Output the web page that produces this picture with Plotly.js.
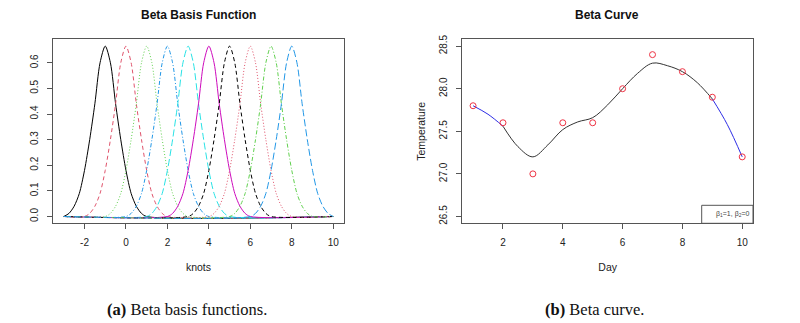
<!DOCTYPE html>
<html>
<head>
<meta charset="utf-8">
<script src="https://cdn.plot.ly/plotly-3.0.1.min.js"></script>
<style>html,body{margin:0;padding:0;background:#fff;}#chart{width:800px;height:323px;}</style>
</head>
<body>
<div id="chart"></div>
<script>
// ---- Panel (a): beta basis functions ----
// knot centres of the ten basis functions
var basisCenters = [-1, 0, 1, 2, 3, 4, 5, 6, 7, 8];
// common bump profile: offset from centre -> value
var profileOffsets = [-2, -1.75, -1.5, -1.25, -1, -0.75, -0.5, -0.25, 0, 0.25, 0.5, 0.75, 1, 1.25, 1.5, 1.75, 2];
var profileValues  = [0, 0.012, 0.04, 0.09, 0.18, 0.30, 0.44, 0.60, 0.665, 0.60, 0.44, 0.30, 0.18, 0.09, 0.04, 0.012, 0];
var knotRange = [-3, 10];
var basisColors = ['#000000', '#DF536B', '#61D04F', '#2297E6', '#28E2E5', '#CD0BBC', '#000000', '#DF536B', '#61D04F', '#2297E6'];
var basisDashes = ['solid', '4px,3px', '1px,2px', '1px,2px,4px,2px', '7px,3px', 'solid', '4px,3px', '1px,2px', '1px,2px,4px,2px', '7px,3px'];
var basisTicks = [-2, 0, 2, 4, 6, 8, 10];
var basisTickLabels = ['-2', '0', '2', '4', '6', '8', '10'];
var basisYTicks = [0, 0.1, 0.2, 0.3, 0.4, 0.5, 0.6];

// ---- Panel (b): beta curve ----
var days = [1, 2, 3, 4, 5, 6, 7, 8, 9, 10];
var temperature = [27.8, 27.6, 27.0, 27.6, 27.6, 28.0, 28.4, 28.2, 27.9, 27.2];
var curveDays = [1, 1.5, 2, 2.5, 3, 3.5, 4, 4.5, 5, 5.5, 6, 6.5, 7, 7.5, 8, 8.5, 9, 9.5, 10];
var curveTemp = [27.80, 27.70, 27.56, 27.32, 27.20, 27.34, 27.52, 27.61, 27.66, 27.81, 28.00, 28.18, 28.30, 28.27, 28.20, 28.07, 27.88, 27.58, 27.20];
var dayTicks = [2, 4, 6, 8, 10];
var tempTicks = [26.5, 27.0, 27.5, 28.0, 28.5];
var legendText = 'β<sub>1</sub>=1, β<sub>2</sub>=0';

var traces = [];
basisCenters.forEach(function (c, i) {
  var xs = [], ys = [];
  if (c + profileOffsets[0] > knotRange[0]) { xs.push(knotRange[0]); ys.push(0); }
  profileOffsets.forEach(function (o, j) { xs.push(c + o); ys.push(profileValues[j]); });
  if (c + profileOffsets[profileOffsets.length - 1] < knotRange[1]) { xs.push(knotRange[1]); ys.push(0); }
  traces.push({
    x: xs, y: ys, xaxis: 'x', yaxis: 'y', type: 'scatter', mode: 'lines',
    line: {color: basisColors[i], width: 1, dash: basisDashes[i], shape: 'spline', smoothing: 0.8},
    hoverinfo: 'skip', showlegend: false
  });
});

function segment(a, b) {
  var xs = [], ys = [];
  curveDays.forEach(function (d, i) { if (d >= a && d <= b) { xs.push(d); ys.push(curveTemp[i]); } });
  return {x: xs, y: ys};
}
var s1 = segment(1, 2), s2 = segment(2, 9), s3 = segment(9, 10);
[[s1, '#2E2EE6'], [s2, '#333333'], [s3, '#2E2EE6']].forEach(function (p) {
  traces.push({x: p[0].x, y: p[0].y, xaxis: 'x2', yaxis: 'y2', type: 'scatter', mode: 'lines',
    line: {color: p[1], width: 1, shape: 'spline', smoothing: 1}, showlegend: false});
});
traces.push({x: days, y: temperature, xaxis: 'x2', yaxis: 'y2', type: 'scatter', mode: 'markers',
  marker: {symbol: 'circle-open', size: 6, color: '#EE3344', line: {width: 1}}, showlegend: false});

var tickFont = {family: 'Liberation Sans, Arial, sans-serif', size: 10, color: '#222'};
var titleFont = {family: 'Liberation Sans, Arial, sans-serif', size: 10.5, color: '#222'};
function xax(domain, range, ticks, labels, title, anchor) {
  return {domain: domain, range: range, tickmode: 'array', tickvals: ticks, ticktext: labels, showgrid: false, zeroline: false,
    showline: true, mirror: true, linecolor: '#555', linewidth: 1, ticks: 'outside', ticklen: 5, tickcolor: '#555',
    tickfont: tickFont, ticklabelstandoff: 5, anchor: anchor,
    title: {text: title, font: titleFont, standoff: 16}};
}
function yax(domain, range, ticks, title, anchor) {
  var a = {domain: domain, range: range, tickmode: 'array', tickvals: ticks, tickformat: '.1f', showgrid: false, zeroline: false,
    showline: true, mirror: true, linecolor: '#555', linewidth: 1, ticks: 'outside', ticklen: 5, tickcolor: '#555',
    tickfont: tickFont, tickangle: -90, ticklabelstandoff: 5, anchor: anchor};
  if (title) { a.title = {text: title, font: titleFont, standoff: 10}; }
  return a;
}

var yDom = [1 - 223.3 / 323, 1 - 39.3 / 323];
var layout = {
  width: 800, height: 323, margin: {l: 0, r: 0, t: 0, b: 0},
  paper_bgcolor: '#fff', plot_bgcolor: '#fff', showlegend: false,
  xaxis: xax([53 / 800, 344 / 800], [-3.52, 10.52], basisTicks, basisTickLabels, 'knots', 'y'),
  yaxis: yax(yDom, [-0.0266, 0.6916], basisYTicks, null, 'x'),
  xaxis2: xax([462.3 / 800, 753 / 800], [0.64, 10.36], dayTicks, dayTicks.map(String), 'Day', 'y2'),
  yaxis2: yax(yDom, [26.42, 28.58], tempTicks, 'Temperature', 'x2'),
  shapes: [{type: 'rect', xref: 'x2 domain', yref: 'y2 domain', x0: (701.7 - 462.3) / (753 - 462.3), x1: 1, y0: 0, y1: (223.3 - 205.3) / 184,
    line: {color: '#555', width: 1}, fillcolor: 'rgba(0,0,0,0)'}],
  annotations: [
    {text: '<b>Beta Basis Function</b>', xref: 'paper', yref: 'paper', x: 198 / 800, y: 1 - 15 / 323, showarrow: false,
      font: {family: 'Liberation Sans, Arial, sans-serif', size: 12, color: '#111'}, xanchor: 'center', yanchor: 'middle'},
    {text: '<b>Beta Curve</b>', xref: 'paper', yref: 'paper', x: 607 / 800, y: 1 - 15 / 323, showarrow: false,
      font: {family: 'Liberation Sans, Arial, sans-serif', size: 12, color: '#111'}, xanchor: 'center', yanchor: 'middle'},
    {text: legendText, xref: 'x2 domain', yref: 'y2 domain', x: (732.3 - 462.3) / (753 - 462.3), y: (223.3 - 213.7) / 184, showarrow: false,
      font: {family: 'Liberation Sans, Arial, sans-serif', size: 7, color: '#444'}, xanchor: 'center', yanchor: 'middle'},
    {text: '<b>(a)</b> Beta basis functions.', xref: 'paper', yref: 'paper', x: 187 / 800, y: 1 - 309 / 323, showarrow: false,
      font: {family: 'Liberation Serif, Times New Roman, serif', size: 16.5, color: '#111'}, xanchor: 'center', yanchor: 'middle'},
    {text: '<b>(b)</b> Beta curve.', xref: 'paper', yref: 'paper', x: 594 / 800, y: 1 - 309 / 323, showarrow: false,
      font: {family: 'Liberation Serif, Times New Roman, serif', size: 16.5, color: '#111'}, xanchor: 'center', yanchor: 'middle'}
  ]
};

Plotly.newPlot('chart', traces, layout, {staticPlot: true, displayModeBar: false});
</script>
</body>
</html>
